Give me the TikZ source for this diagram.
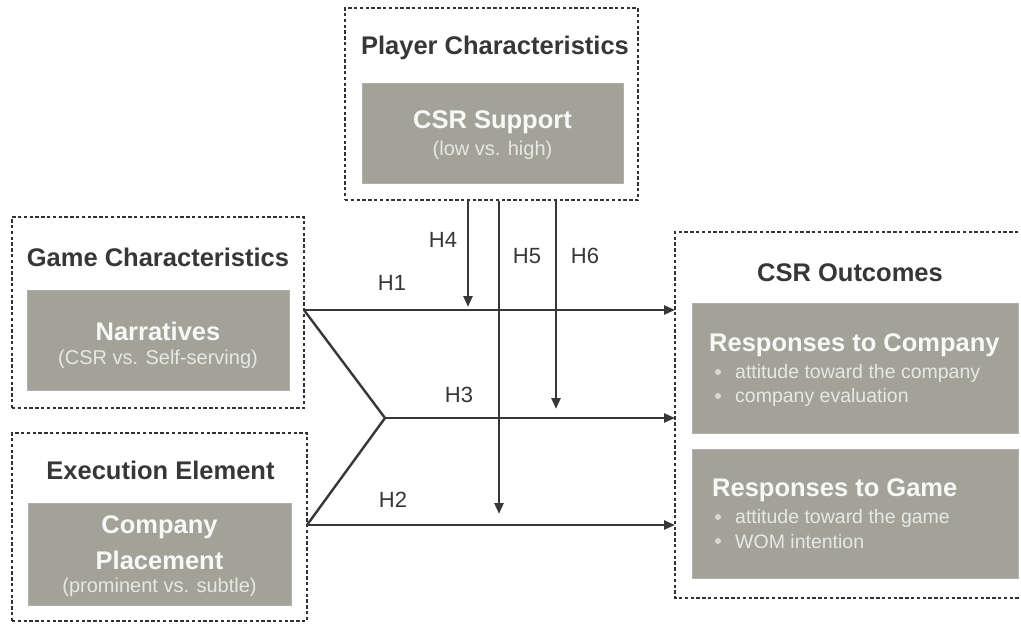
\documentclass[tikz,border=0pt]{standalone}
\usepackage{fontspec}
\setmainfont{Liberation Sans}
\usetikzlibrary{arrows.meta}
\definecolor{boxgrey}{RGB}{163,162,153}
\definecolor{ink}{RGB}{55,55,55}
\definecolor{framegrey}{RGB}{50,50,50}
\definecolor{softwhite}{RGB}{248,248,246}
\definecolor{subwhite}{RGB}{232,232,226}
\definecolor{dotgrey}{RGB}{215,215,208}
\tikzset{
  x=1pt, y=-1pt,
  group/.style={draw=framegrey, line width=2.8pt, dash pattern=on 3.4pt off 2.4pt, inner sep=0pt},
  greybox/.style={fill=boxgrey, draw=boxgrey!85!white, line width=0.8pt, inner sep=0pt},
  grouptitle/.style={text=ink, font=\fontsize{25.5}{30}\selectfont\bfseries, inner sep=0pt},
  boxtitle/.style={text=softwhite, font=\fontsize{25.5}{30}\selectfont\bfseries, inner sep=0pt},
  boxsub/.style={text=subwhite, font=\fontsize{20}{24}\selectfont, inner sep=0pt},
  itemtext/.style={text=subwhite, font=\fontsize{19.5}{24}\selectfont, inner sep=0pt, anchor=west},
  itemdot/.style={circle, fill=dotgrey, inner sep=0pt, minimum size=6pt},
  hyp/.style={text=ink, font=\fontsize{22}{26}\selectfont, inner sep=0pt},
  link/.style={draw=ink, line width=2.4pt},
  arr/.style={link, -{Triangle[length=11pt,width=9pt]}},
}
\begin{document}
\begin{tikzpicture}
\path[use as bounding box, fill=white] (0,0) rectangle (1021,624);

% Player characteristics (moderator)
\node[group, minimum width=293pt, minimum height=192pt] (pgrp) at (491.5,104) {};
\node[grouptitle] (ptitle) at (495,48) {Player Characteristics};
\node[greybox, minimum width=261pt, minimum height=100pt] (sup) at (492.5,133) {};
\node[boxtitle] (suptitle) at (492.5,122) {CSR Support};
\node[boxsub] (supsub) at (492.5,150) {(low vs. high)};

% Game characteristics
\node[group, minimum width=292pt, minimum height=191pt] (ggrp) at (158,312.5) {};
\node[grouptitle] (gtitle) at (158,257) {Game Characteristics};
\node[greybox, minimum width=262pt, minimum height=100pt] (narr) at (158,340) {};
\node[boxtitle] (narrtitle) at (158,331) {Narratives};
\node[boxsub] (narrsub) at (158,359) {(CSR vs. Self-serving)};

% Execution element
\node[group, minimum width=295pt, minimum height=188pt] (egrp) at (159.5,527) {};
\node[grouptitle] (etitle) at (160.5,470) {Execution Element};
\node[greybox, minimum width=263pt, minimum height=102pt] (place) at (159.5,554) {};
\node[boxtitle] (placet1) at (159.5,527) {Company};
\node[boxtitle] (placet2) at (159.5,560) {Placement};
\node[boxsub] (placesub) at (159.5,587) {(prominent vs. subtle)};

% CSR outcomes (frame runs past the right edge)
\draw[group] (1030,232) -- (675,232) -- (675,598) -- (1030,598);
\node[grouptitle] (otitle) at (850,273) {CSR Outcomes};
\node[greybox, minimum width=326pt, minimum height=130pt] (rcomp) at (855,368) {};
\node[boxtitle, anchor=west] (rcompt) at (709,345) {Responses to Company};
\node[itemdot] (d1) at (718,372) {};
\node[itemtext] (t1) at (735,373) {attitude toward the company};
\node[itemdot] (d2) at (718,396) {};
\node[itemtext] (t2) at (735,397) {company evaluation};
\node[greybox, minimum width=326pt, minimum height=129pt] (rgame) at (855,513.5) {};
\node[boxtitle, anchor=west] (rgamet) at (712,490) {Responses to Game};
\node[itemdot] (d3) at (718,517) {};
\node[itemtext] (t3) at (735,518) {attitude toward the game};
\node[itemdot] (d4) at (718,541) {};
\node[itemtext] (t4) at (735,542) {WOM intention};

% connector end points
\coordinate (s1) at (304,310);
\coordinate (s2) at (307,525);
\coordinate (v) at (385,418);
\coordinate (e1) at (675,310);
\coordinate (e3) at (675,418);
\coordinate (e2) at (675,525);
\coordinate (m4) at (468,307);
\coordinate (m5) at (499,514);
\coordinate (m6) at (556,409);

% main effects
\draw[link] (s1) -- (v) -- (s2);
\draw[arr] (s1) -- (e1);
\draw[arr] (v) -- (e3);
\draw[arr] (s2) -- (e2);

% moderation
\draw[arr] (pgrp.south -| m4) -- (m4);
\draw[arr] (pgrp.south -| m5) -- (m5);
\draw[arr] (pgrp.south -| m6) -- (m6);

% hypothesis labels
\node[hyp] (h1) at (392,283) {H1};
\node[hyp] (h2) at (393,500) {H2};
\node[hyp] (h3) at (459,395) {H3};
\node[hyp] (h4) at (443,240) {H4};
\node[hyp] (h5) at (527,256) {H5};
\node[hyp] (h6) at (585,256) {H6};
\end{tikzpicture}
\end{document}
